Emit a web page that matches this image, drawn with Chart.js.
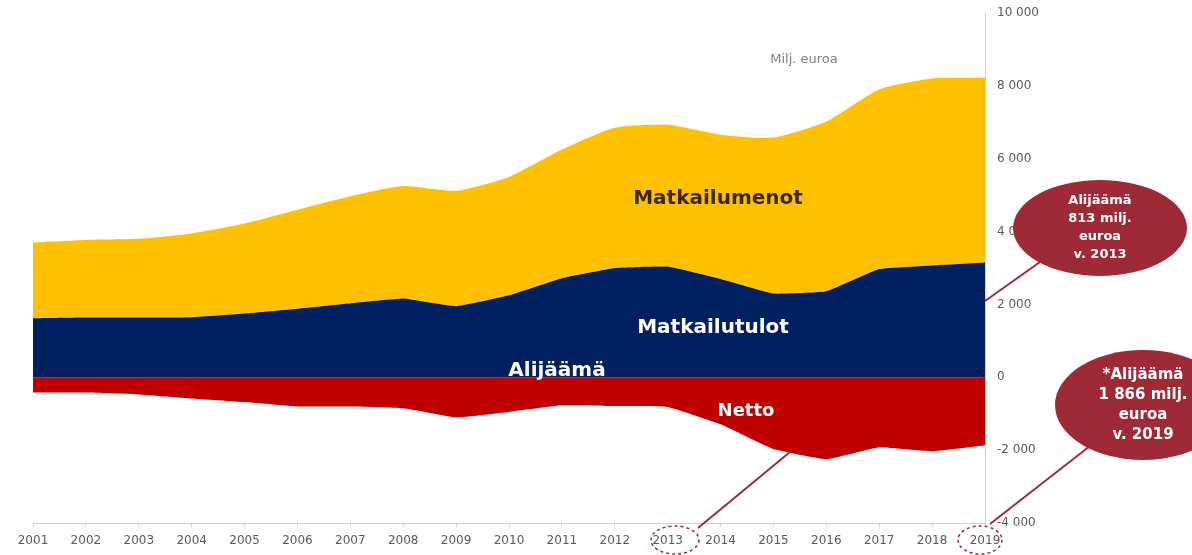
<!DOCTYPE html>
<html>
<head>
<meta charset="utf-8">
<script src="https://cdn.jsdelivr.net/npm/chart.js@4/dist/chart.umd.min.js"></script>
<style>
  html, body { margin: 0; padding: 0; background: #fff; }
  #wrap { width: 1192px; height: 555px; }
</style>
</head>
<body>
<div id="wrap"><canvas id="c" width="1192" height="555"></canvas></div>
<script>
// vuodet
var years = ['2001', '2002', '2003', '2004', '2005', '2006', '2007', '2008', '2009', '2010',
             '2011', '2012', '2013', '2014', '2015', '2016', '2017', '2018', '2019'];
// matkailutulot, milj. euroa
var tulot = [1620, 1640, 1640, 1650, 1750, 1880, 2030, 2160, 1950, 2250,
             2720, 3000, 3040, 2700, 2300, 2360, 2970, 3070, 3150];
// matkailumenot, milj. euroa (pinottu tulojen päälle)
var menot = [2080, 2130, 2160, 2300, 2470, 2720, 2940, 3090, 3170, 3250,
             3530, 3850, 3890, 3960, 4280, 4660, 4930, 5130, 5070];
// netto (alijäämä)
var netto = [-420, -420, -470, -580, -680, -800, -800, -850, -1100, -950,
             -770, -790, -813, -1290, -1970, -2250, -1920, -2030, -1866];
var yTicks = [-4000, -2000, 0, 2000, 4000, 6000, 8000, 10000];

var RED_DARK = '#9e2a35';

function fmt(v) {
  var s = String(Math.abs(v)).replace(/\B(?=(\d{3})+(?!\d))/g, ' ');
  return (v < 0 ? '-' : '') + s;
}

function ellipseText(ctx, cx, cy, rx, ry, lines, size, lh) {
  ctx.fillStyle = RED_DARK;
  ctx.beginPath();
  ctx.ellipse(cx, cy, rx, ry, 0, 0, Math.PI * 2);
  ctx.fill();
  ctx.fillStyle = '#fff';
  ctx.font = 'bold ' + size + 'px "DejaVu Sans"';
  ctx.textAlign = 'center';
  ctx.textBaseline = 'middle';
  var y0 = cy - (lines.length - 1) * lh / 2;
  lines.forEach(function (t, i) { ctx.fillText(t, cx, y0 + i * lh); });
}

var notes = {
  id: 'notes',
  afterDraw: function (chart) {
    var ctx = chart.ctx;
    ctx.save();

    // tekstit alueiden päällä
    ctx.textAlign = 'center';
    ctx.textBaseline = 'middle';
    ctx.font = 'bold 20px "DejaVu Sans"';
    ctx.fillStyle = '#3b2800';
    ctx.fillText('Matkailumenot', 718, 199);
    ctx.fillStyle = '#fff';
    ctx.fillText('Matkailutulot', 713, 328);
    ctx.fillText('Alijäämä', 557, 371);
    ctx.font = 'bold 18px "DejaVu Sans"';
    ctx.fillText('Netto', 746, 411);

    ctx.font = '13px "DejaVu Sans"';
    ctx.fillStyle = '#7f7f7f';
    ctx.fillText('Milj. euroa', 804, 60);

    // viivat
    ctx.strokeStyle = RED_DARK;
    ctx.lineWidth = 2;
    ctx.beginPath();
    ctx.moveTo(1040, 262); ctx.lineTo(985, 301);
    ctx.moveTo(1090, 446); ctx.lineTo(990, 524);
    ctx.moveTo(698, 528); ctx.lineTo(790, 452);
    ctx.stroke();

    // katkoviivaympyrät
    ctx.lineWidth = 1.5;
    ctx.setLineDash([3, 3]);
    ctx.beginPath();
    ctx.ellipse(675, 540, 24, 14, 0, 0, Math.PI * 2);
    ctx.stroke();
    ctx.beginPath();
    ctx.ellipse(980, 540, 22, 14, 0, 0, Math.PI * 2);
    ctx.stroke();
    ctx.setLineDash([]);

    ellipseText(ctx, 1100, 228, 87, 48, ['Alijäämä', '813 milj.', 'euroa', 'v. 2013'], 13, 18);
    ellipseText(ctx, 1143, 405, 88, 55, ['*Alijäämä', '1 866 milj.', 'euroa', 'v. 2019'], 15, 20);

    ctx.restore();
  }
};

new Chart(document.getElementById('c'), {
  type: 'line',
  data: {
    labels: years,
    datasets: [
      { label: 'Matkailutulot', data: tulot, stack: 'plus', fill: 'origin',
        backgroundColor: '#002060', borderWidth: 0, pointRadius: 0, tension: 0.1 },
      { label: 'Matkailumenot', data: menot, stack: 'plus', fill: '-1',
        backgroundColor: '#ffc000', borderWidth: 0, pointRadius: 0, tension: 0.2 },
      { label: 'Netto', data: netto, stack: 'minus', fill: 'origin',
        backgroundColor: '#c00000', borderWidth: 0, pointRadius: 0, tension: 0.1 }
    ]
  },
  options: {
    responsive: false,
    animation: false,
    layout: { padding: { top: 13, left: 33, right: 0, bottom: 0 } },
    plugins: { legend: { display: false }, tooltip: { enabled: false } },
    scales: {
      x: {
        offset: false,
        grid: { display: true, drawOnChartArea: false, tickLength: 4, color: '#d0d0d0' },
        border: { display: true, color: '#d0d0d0' },
        ticks: { color: '#595959', font: { family: 'DejaVu Sans', size: 12 }, padding: 7,
                 maxRotation: 0, autoSkip: false },
        afterFit: function (s) { s.height = 32; }
      },
      y: {
        position: 'right',
        stacked: true,
        min: -4000, max: 10000,
        afterBuildTicks: function (s) { s.ticks = yTicks.map(function (v) { return { value: v }; }); },
        grid: { display: true, drawOnChartArea: false, drawTicks: true, tickLength: 12,
                color: 'rgba(0,0,0,0)' },
        border: { display: true, color: '#d0d0d0' },
        ticks: { color: '#595959', font: { family: 'DejaVu Sans', size: 12 }, padding: 0,
                 callback: function (v) { return fmt(v); } },
        afterFit: function (s) { s.width = 207; }
      }
    }
  },
  plugins: [notes]
});
</script>
</body>
</html>
